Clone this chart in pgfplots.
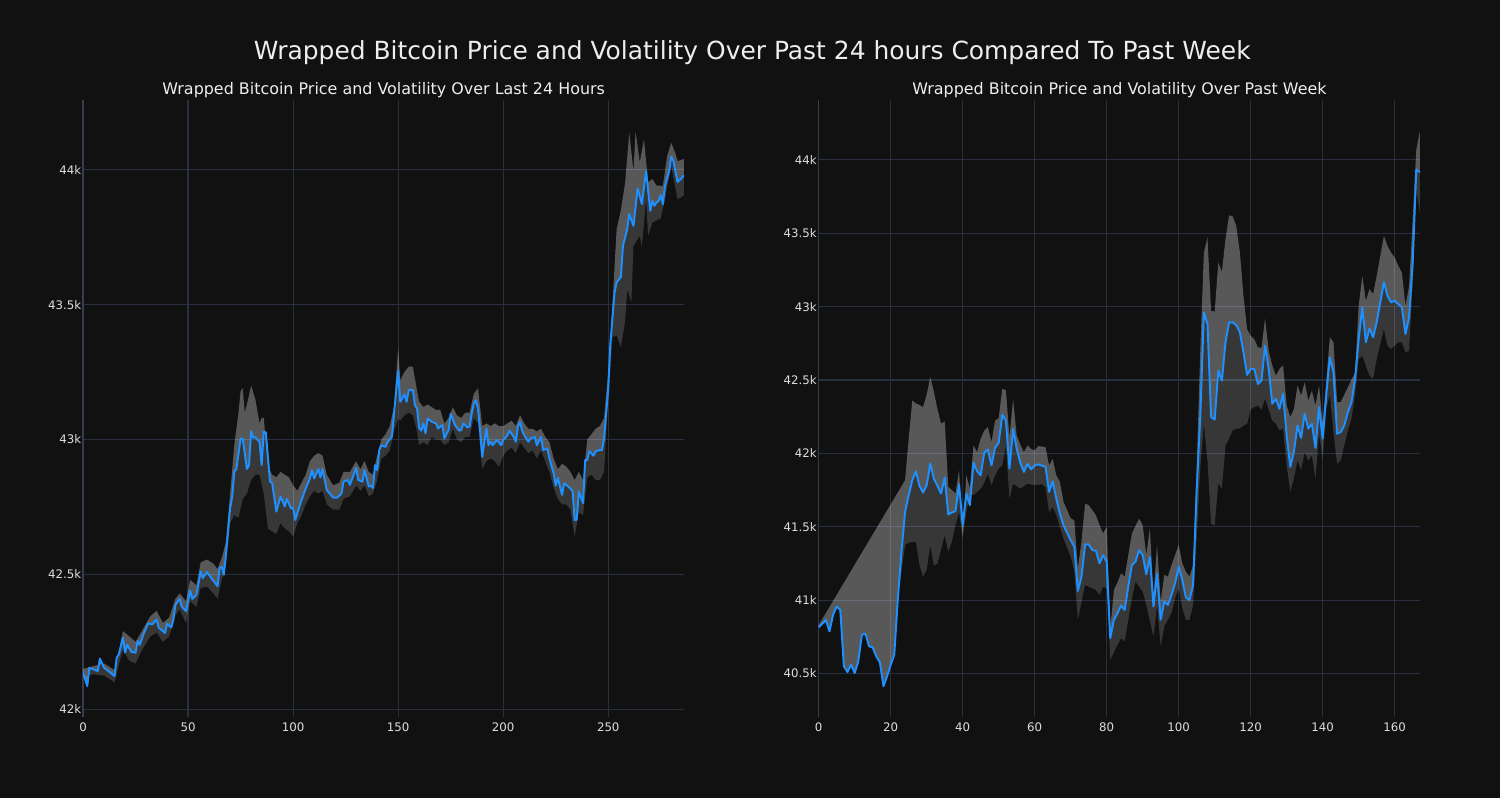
\documentclass[border=0pt]{standalone}
\usepackage{pgfplots}
\pgfplotsset{compat=1.18}
\usepackage{pgfplotstable}
\usepgfplotslibrary{fillbetween}
\usepackage{fontspec}
\setmainfont{DejaVu Sans}
\definecolor{bgc}{HTML}{111111}
\definecolor{gridc}{HTML}{283040}
\definecolor{spinec}{HTML}{343E4E}
\definecolor{titlec}{HTML}{EEEEEE}
\definecolor{tickc}{HTML}{DDDDDD}
\definecolor{linec}{HTML}{1E90FF}

% ---------- 24 hours: price ----------
\pgfplotstableread{
x y
0 42136
2 42086
3 42154
7 42142
8 42188
10 42154
13 42136
15 42123
16 42191
17 42203
19 42265
20 42210
21 42239
23 42213
25 42210
26 42253
27 42239
29 42283
31 42318
33 42315
35 42333
36 42303
39 42283
40 42317
42 42303
43 42333
44 42388
46 42409
47 42380
49 42364
51 42440
52 42409
54 42425
56 42511
57 42487
59 42509
61 42487
62 42477
64 42456
65 42524
66 42528
67 42499
68 42573
70 42745
71 42789
72 42881
73 42891
75 43004
76 43003
78 42891
79 42905
80 43031
81 43007
82 43008
84 42992
85 42905
86 43029
87 43027
89 42844
90 42840
92 42733
94 42789
96 42752
97 42780
99 42745
100 42746
101 42702
103 42752
104 42776
106 42819
108 42856
109 42887
110 42856
112 42891
113 42860
114 42891
116 42813
119 42785
121 42785
123 42800
124 42844
126 42850
127 42832
130 42895
131 42850
133 42844
134 42887
136 42826
137 42829
138 42820
139 42905
140 42887
141 42961
142 42979
144 42973
145 42992
147 43010
148 43093
150 43256
151 43140
153 43167
154 43140
155 43183
157 43183
158 43127
159 43115
160 43041
161 43033
162 43060
163 43023
164 43078
166 43066
168 43060
169 43041
171 43054
172 43004
174 43035
175 43096
177 43054
179 43033
180 43035
181 43060
183 43045
184 43048
185 43096
186 43133
187 43146
188 43115
189 43033
190 42936
192 43041
193 42979
194 42992
195 42979
197 42998
199 42979
200 42998
202 43016
203 43033
205 43010
206 42992
207 43048
208 43066
209 43033
210 43016
212 42992
213 43004
215 43010
216 42979
218 43010
219 42961
221 42967
222 42930
224 42875
225 42829
226 42858
228 42795
229 42838
231 42826
233 42810
234 42702
235 42702
236 42807
238 42764
239 42924
240 42924
241 42957
243 42940
244 42957
246 42961
247 42961
248 43004
250 43190
251 43355
253 43546
254 43583
256 43602
257 43718
259 43780
260 43836
262 43792
264 43931
266 43873
268 43996
270 43848
271 43885
272 43867
273 43879
274 43885
275 43906
276 43873
277 43940
279 43996
280 44049
281 44033
283 43955
285 43970
286 43980
}\LP

\pgfplotstableread{
x y
0 42150
5 42160
10 42170
15 42145
17 42215
19 42290
22 42270
25 42250
28 42290
32 42345
35 42365
38 42320
41 42340
44 42410
46 42430
49 42400
51 42480
54 42460
56 42545
59 42555
62 42540
64 42520
66 42560
68 42620
70 42800
72 42980
74 43100
75 43180
76 43190
77 43100
78 43130
80 43200
82 43150
84 43060
85 43080
86 43080
88 42900
90 42870
92 42860
94 42880
96 42870
98 42860
100 42830
102 42810
104 42840
106 42870
108 42920
110 42940
112 42950
114 42940
116 42870
119 42830
122 42840
124 42880
127 42880
130 42920
132 42890
134 42920
136 42880
138 42870
140 42940
142 43000
144 43020
146 43050
148 43120
150 43340
151 43220
153 43250
155 43270
157 43270
159 43180
160 43140
162 43120
164 43130
166 43120
168 43110
170 43110
172 43060
174 43080
176 43120
178 43090
180 43080
182 43100
184 43100
186 43170
188 43190
190 43050
192 43060
194 43050
196 43060
198 43050
200 43050
202 43060
204 43070
206 43050
208 43090
210 43060
212 43040
214 43040
216 43030
218 43040
220 43010
222 42990
224 42930
226 42890
228 42910
230 42900
232 42880
234 42850
236 42880
238 42850
240 43000
242 43020
244 43040
246 43050
248 43080
250 43250
252 43500
254 43780
256 43850
258 43950
260 44138
262 43995
263 44142
265 44028
267 44113
269 43954
271 43966
273 43942
276 43940
278 44050
280 44100
282 44060
283 44032
286 44040
}\LU

\pgfplotstableread{
x y
0 42120
5 42130
10 42125
15 42100
17 42165
19 42220
22 42180
25 42170
28 42220
32 42270
35 42285
38 42250
41 42270
44 42350
46 42370
49 42320
51 42400
54 42380
56 42450
59 42455
62 42430
64 42410
66 42480
68 42530
70 42690
72 42720
74 42710
76 42780
78 42800
80 42850
82 42870
84 42870
86 42800
88 42670
90 42660
92 42650
94 42690
96 42670
98 42660
100 42640
102 42690
104 42720
106 42760
108 42790
110 42810
112 42800
114 42810
116 42760
119 42740
122 42740
124 42780
127 42790
130 42830
132 42810
134 42830
136 42790
138 42800
140 42850
142 42930
144 42940
146 42960
148 43030
150 43080
151 43070
153 43090
155 43100
157 43090
159 43030
160 42980
162 42990
164 42980
166 43010
168 43000
170 43000
172 42980
174 42990
176 43040
178 43000
180 42990
182 43010
184 43010
186 43080
188 43060
190 42890
192 42920
194 42930
196 42920
198 42900
200 42940
202 42960
204 42970
206 42950
208 42990
210 42970
212 42950
214 42960
216 42930
218 42960
220 42920
222 42880
224 42820
226 42780
228 42760
230 42760
232 42740
234 42640
236 42730
238 42720
240 42860
242 42870
244 42850
246 42850
248 42880
250 43150
252 43380
254 43386
256 43343
258 43436
259 43558
261 43509
262 43718
265 43755
266 43713
268 43891
269 43755
271 43805
275 43820
277 43891
280 44014
283 43891
286 43905
}\LL

% ---------- past week: price ----------
\pgfplotstableread{
x y
0 40814
2 40865
3 40787
4 40900
5 40957
6 40933
7 40549
8 40510
9 40560
10 40503
11 40583
12 40764
13 40771
14 40685
15 40678
16 40617
17 40576
18 40413
19 40481
20 40560
21 40628
22 41013
23 41330
24 41602
25 41715
26 41817
27 41878
28 41778
29 41733
30 41783
31 41930
32 41828
33 41778
34 41726
35 41837
36 41584
37 41598
38 41606
39 41787
40 41511
41 41726
42 41647
43 41937
44 41878
45 41851
46 42005
47 42027
48 41918
49 42039
50 42071
51 42263
52 42224
53 41896
54 42168
55 42032
56 41937
57 41874
58 41928
59 41891
60 41918
61 41925
63 41908
64 41738
65 41810
66 41692
67 41590
68 41511
70 41409
71 41364
72 41063
73 41160
74 41380
75 41380
76 41341
77 41337
78 41251
79 41307
80 41260
81 40741
82 40866
83 40911
84 40963
85 40933
86 41093
87 41239
88 41262
89 41341
90 41307
91 41176
92 41296
93 40957
94 41178
95 40866
96 40991
97 40967
98 41035
99 41115
100 41228
101 41137
102 41018
103 41001
104 41103
105 41750
106 42250
107 42961
108 42881
109 42247
110 42230
111 42564
112 42496
113 42757
114 42893
115 42893
116 42874
117 42825
118 42689
119 42535
120 42575
121 42575
122 42473
123 42496
124 42734
125 42575
126 42338
127 42372
128 42304
129 42406
130 42122
131 41908
132 42010
133 42190
134 42105
135 42270
136 42168
137 42202
138 42037
139 42315
140 42100
141 42400
142 42655
143 42553
144 42134
145 42145
146 42190
147 42281
148 42349
149 42507
150 42779
151 42995
152 42757
153 42852
154 42791
155 42893
156 43029
157 43168
158 43073
159 43029
160 43040
161 43017
162 42995
163 42813
164 42927
165 43300
166 43934
167 43916
}\RP

\pgfplotstableread{
x y
0 40830
24 41817
25 42100
26 42360
27 42340
28 42330
29 42315
30 42400
31 42519
32 42420
33 42300
34 42202
35 42218
36 41772
37 41750
38 41727
39 41885
40 41443
41 41851
42 41760
43 42054
44 42008
45 42100
46 42156
47 42179
48 42077
49 42224
50 42240
51 42440
52 42430
53 42110
54 42370
55 42122
56 42060
57 42008
58 42054
59 42030
60 42020
61 42050
63 42043
64 41918
65 41963
66 41850
67 41806
68 41670
70 41557
71 41545
72 41217
73 41398
74 41658
75 41647
77 41579
78 41511
79 41455
80 41500
81 40800
82 41069
83 41120
84 41183
85 41160
87 41454
89 41556
90 41511
91 41307
92 41489
93 41034
94 41375
95 40990
96 41171
97 41160
98 41239
100 41375
101 41250
102 41194
103 41160
104 41239
105 41900
106 42700
107 43368
108 43470
109 42972
110 42965
111 43300
112 43237
113 43459
114 43622
115 43615
116 43549
117 43368
118 43073
119 42847
120 42800
121 42779
122 42722
123 42720
124 42920
125 42700
126 42598
127 42530
128 42575
129 42600
130 42326
131 42247
132 42300
133 42462
134 42394
135 42485
136 42360
137 42428
138 42326
139 42462
140 42200
141 42500
142 42791
143 42757
144 42349
145 42349
147 42451
149 42553
150 43006
151 43209
152 43040
153 43119
154 43085
155 43209
157 43481
158 43413
159 43368
160 43334
161 43277
162 43232
163 43006
164 43141
165 43593
166 44070
167 44194
}\RU

\pgfplotstableread{
x y
22 41013
24 41375
25 41393
27 41397
28 41239
29 41160
30 41205
31 41375
32 41234
33 41250
35 41443
36 41330
37 41400
38 41511
39 41600
40 41420
41 41600
42 41726
43 41715
45 41760
46 41800
47 41860
48 41783
49 41850
50 41896
51 41918
52 42054
53 41692
54 41794
56 41760
58 41794
60 41783
62 41790
63 41771
64 41600
65 41635
66 41579
68 41420
70 41296
71 41194
72 40866
73 40990
74 41103
76 41081
77 41069
78 41035
79 41092
80 41081
81 40594
83 40696
84 40741
85 40719
87 41013
88 41126
90 41058
91 40968
93 40753
94 40967
95 40685
96 40821
98 40912
99 41013
100 41081
101 40950
102 40866
103 40866
104 40967
105 41420
106 41900
107 42200
108 41950
109 41520
110 41511
111 41794
112 41760
113 42054
114 42100
115 42156
116 42168
117 42170
118 42190
119 42202
120 42300
121 42315
122 42326
123 42300
124 42372
125 42300
126 42224
127 42202
128 42156
129 42170
130 41918
131 41737
132 41828
133 41952
134 41885
135 42008
136 41952
137 41986
138 41828
139 42133
140 41963
141 42304
142 42400
143 42145
144 41930
145 41952
146 42054
147 42156
148 42235
149 42400
150 42643
151 42666
152 42598
153 42530
154 42507
155 42643
157 42847
158 42734
159 42711
160 42734
161 42757
162 42757
163 42689
164 42700
165 43164
166 43800
167 43640
}\RL

\pgfplotsset{
  common/.style={
    scale only axis, anchor=south west,
    axis x line*=bottom, axis y line*=left,
    x axis line style={draw=none},
    y axis line style={draw=spinec, line width=1pt, -},
    grid=major, major grid style={draw=gridc, line width=0.9pt},
    major tick length=0pt,
    scaled y ticks=false, scaled x ticks=false,
    tick label style={font=\fontsize{8.5}{10}\selectfont, text=tickc},
    yticklabel style={inner xsep=1.2pt},
    /pgf/number format/assume math mode=true,
    title style={font=\fontsize{11.5}{13}\selectfont, text=titlec, at={(0.5,1)}, anchor=base, yshift=-2.2pt},
  },
}

\begin{document}
\pagecolor{bgc}
\begin{tikzpicture}
\node[anchor=base, text=titlec, font=\fontsize{18}{21}\selectfont] at (540pt,532.8pt) {Wrapped Bitcoin Price and Volatility Over Past 24 hours Compared To Past Week};

\begin{axis}[common, at={(56.8pt,57.96pt)}, width=434.16pt, height=446.04pt,
  xmin=0, xmax=286.2, ymin=41970, ymax=44260,
  xtick={0,50,100,150,200,250},
  ytick={42000,42500,43000,43500,44000},
  yticklabels={42k,42.5k,43k,43.5k,44k},
  title={Wrapped Bitcoin Price and Volatility Over Last 24 Hours}]
\addplot[draw=none, name path=P] table {\LP};
\addplot[draw=none, name path=U] table {\LU};
\addplot[draw=none, name path=L] table {\LL};
\addplot[fill=white, fill opacity=0.30, draw=none] fill between[of=P and U];
\addplot[fill=white, fill opacity=0.16, draw=none] fill between[of=P and L];
\addplot[linec, line width=1.4pt, line join=round] table {\LP};
\end{axis}

\begin{axis}[common, at={(588pt,57.96pt)}, width=434.4pt, height=446.04pt,
  xmin=0, xmax=167.1, ymin=40201, ymax=44410,
  xtick={0,20,40,60,80,100,120,140,160},
  ytick={40500,41000,41500,42000,42500,43000,43500,44000},
  yticklabels={40.5k,41k,41.5k,42k,42.5k,43k,43.5k,44k},
  title={Wrapped Bitcoin Price and Volatility Over Past Week}]
\addplot[draw=none, name path=P] table {\RP};
\addplot[draw=none, name path=U] table {\RU};
\addplot[draw=none, name path=L] table {\RL};
\addplot[fill=white, fill opacity=0.30, draw=none] fill between[of=P and U];
\addplot[fill=white, fill opacity=0.16, draw=none] fill between[of=P and L, soft clip={domain=22:167}];
\addplot[linec, line width=1.4pt, line join=round] table {\RP};
\end{axis}

\pgfresetboundingbox
\path[use as bounding box] (0,0) rectangle (1080pt,576pt);
\end{tikzpicture}
\end{document}
